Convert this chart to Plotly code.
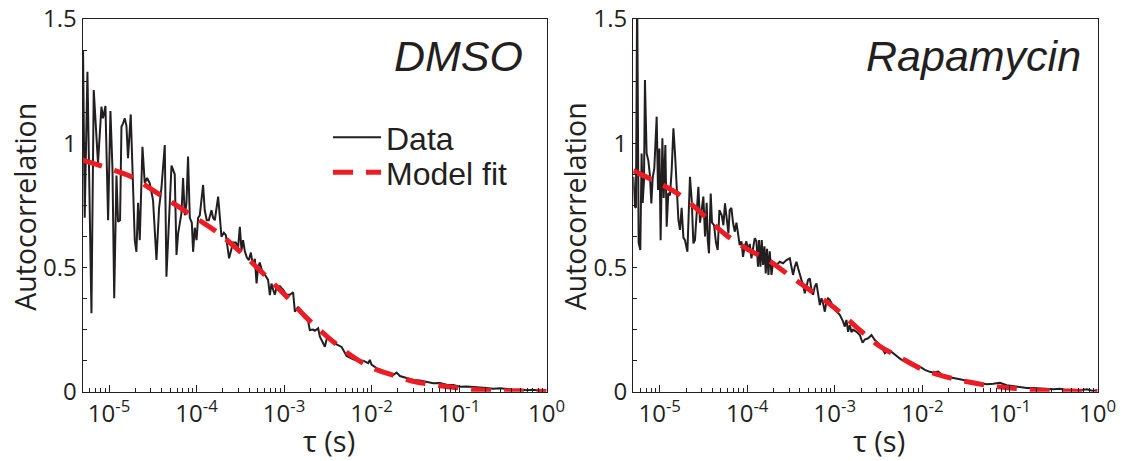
import math
import plotly.graph_objects as go

# ---------------- data ----------------
# DMSO panel: measured autocorrelation (log10 of lag time in s, G)
dmso_log_tau = [
    -5.300, -5.297, -5.278, -5.247, -5.201, -5.175, -5.126, -5.087, -5.069, -5.041,
    -5.011, -4.984, -4.961, -4.941, -4.915, -4.897, -4.874, -4.858, -4.840, -4.820,
    -4.801, -4.783, -4.752, -4.729, -4.706, -4.687, -4.668, -4.649, -4.618, -4.592,
    -4.565, -4.535, -4.497, -4.458, -4.428, -4.401, -4.363, -4.344, -4.314, -4.286,
    -4.249, -4.229, -4.211, -4.172, -4.154, -4.134, -4.115, -4.097, -4.077, -4.054,
    -4.039, -4.020, -4.000, -3.982, -3.963, -3.925, -3.906, -3.883, -3.860, -3.829,
    -3.811, -3.791, -3.753, -3.734, -3.715, -3.688, -3.665, -3.628, -3.600, -3.582,
    -3.551, -3.525, -3.505, -3.486, -3.468, -3.448, -3.425, -3.402, -3.379, -3.357,
    -3.334, -3.314, -3.296, -3.277, -3.254, -3.219, -3.182, -3.162, -3.143, -3.124,
    -3.105, -3.086, -3.048, -3.010, -2.971, -2.933, -2.896, -2.876, -2.839, -2.800,
    -2.762, -2.728, -2.705, -2.667, -2.648, -2.610, -2.590, -2.533, -2.507, -2.457,
    -2.399, -2.342, -2.285, -2.209, -2.156, -2.095, -2.038, -2.019, -2.000, -1.942,
    -1.885, -1.828, -1.752, -1.713, -1.675, -1.599, -1.523, -1.447, -1.370, -1.295,
    -1.218, -1.141, -1.066, -0.989, -0.913, -0.837, -0.760, -0.684, -0.608, -0.532,
    -0.455, -0.380, -0.303, -0.223, -0.155, -0.075, 0.000,
]
dmso_g = [
    0.98, 1.375, 0.70, 1.288, 0.316, 1.214, 0.92, 1.147, 1.10, 1.15,
    0.69, 1.13, 0.90, 0.376, 0.87, 0.684, 0.69, 1.066, 1.08, 1.10,
    1.07, 0.94, 1.116, 0.85, 0.61, 0.563, 0.76, 0.61, 0.986, 0.84,
    0.86, 0.84, 0.77, 0.53, 0.74, 0.82, 0.993, 0.463, 0.72, 0.91,
    0.875, 0.55, 0.635, 0.72, 0.86, 0.71, 0.76, 0.946, 0.70, 0.68,
    0.563, 0.66, 0.61, 0.70, 0.71, 0.832, 0.73, 0.69, 0.69, 0.73,
    0.70, 0.69, 0.785, 0.70, 0.624, 0.64, 0.63, 0.537, 0.57, 0.60,
    0.60, 0.58, 0.664, 0.57, 0.61, 0.565, 0.54, 0.53, 0.56, 0.51,
    0.535, 0.436, 0.50, 0.52, 0.49, 0.47, 0.45, 0.389, 0.435, 0.41,
    0.39, 0.42, 0.425, 0.41, 0.39, 0.39, 0.40, 0.322, 0.34, 0.325,
    0.30, 0.29, 0.248, 0.25, 0.245, 0.255, 0.221, 0.181, 0.22, 0.208,
    0.19, 0.18, 0.144, 0.13, 0.125, 0.125, 0.115, 0.128, 0.109, 0.095,
    0.087, 0.070, 0.067, 0.077, 0.063, 0.055, 0.047, 0.045, 0.040, 0.034,
    0.035, 0.028, 0.027, 0.020, 0.021, 0.018, 0.017, 0.015, 0.012, 0.014,
    0.010, 0.008, 0.009, 0.006, 0.008, 0.004, 0.005,
]

# Rapamycin panel: measured autocorrelation
rap_log_tau = [
    -5.300, -5.282, -5.271, -5.257, -5.240, -5.221, -5.206, -5.194, -5.179, -5.168,
    -5.149, -5.129, -5.111, -5.095, -5.080, -5.061, -5.034, -5.019, -5.003, -4.989,
    -4.969, -4.954, -4.935, -4.920, -4.901, -4.882, -4.863, -4.843, -4.825, -4.806,
    -4.786, -4.768, -4.749, -4.729, -4.711, -4.683, -4.654, -4.634, -4.615, -4.597,
    -4.577, -4.558, -4.539, -4.520, -4.501, -4.482, -4.463, -4.451, -4.437, -4.417,
    -4.402, -4.379, -4.357, -4.337, -4.318, -4.291, -4.272, -4.254, -4.234, -4.215,
    -4.200, -4.181, -4.162, -4.143, -4.123, -4.105, -4.086, -4.066, -4.048, -4.029,
    -4.009, -3.991, -3.971, -3.952, -3.934, -3.914, -3.895, -3.877, -3.865, -3.849,
    -3.834, -3.819, -3.803, -3.789, -3.774, -3.758, -3.743, -3.723, -3.705, -3.666,
    -3.629, -3.591, -3.552, -3.514, -3.495, -3.477, -3.457, -3.438, -3.419, -3.400,
    -3.381, -3.362, -3.343, -3.323, -3.305, -3.286, -3.266, -3.248, -3.229, -3.209,
    -3.191, -3.171, -3.152, -3.134, -3.114, -3.095, -3.077, -3.057, -3.038, -3.019,
    -2.981, -2.943, -2.905, -2.886, -2.867, -2.848, -2.829, -2.810, -2.791, -2.752,
    -2.714, -2.683, -2.657, -2.619, -2.581, -2.543, -2.505, -2.466, -2.429, -2.391,
    -2.352, -2.314, -2.276, -2.238, -2.200, -2.162, -2.123, -2.086, -2.029, -1.971,
    -1.914, -1.877, -1.819, -1.781, -1.723, -1.648, -1.571, -1.495, -1.419, -1.343,
    -1.266, -1.191, -1.114, -1.038, -0.962, -0.886, -0.809, -0.733, -0.657, -0.581,
    -0.505, -0.429, -0.371, -0.291, -0.200, -0.120, -0.063, 0.000,
]
rap_g = [
    0.865, 0.745, 0.74, 1.62, 0.60, 0.57, 0.959, 0.76, 0.85, 1.254,
    0.959, 0.93, 0.87, 0.758, 0.86, 0.90, 1.107, 0.812, 0.979, 0.61,
    1.02, 0.78, 0.993, 0.664, 0.80, 0.79, 0.89, 1.06, 0.96, 0.82,
    0.691, 0.651, 0.74, 0.62, 0.61, 0.563, 0.865, 0.77, 0.597, 0.61,
    0.75, 0.825, 0.68, 0.745, 0.785, 0.625, 0.76, 0.61, 0.557, 0.798,
    0.68, 0.67, 0.60, 0.57, 0.731, 0.71, 0.67, 0.758, 0.69, 0.637,
    0.731, 0.74, 0.68, 0.644, 0.68, 0.63, 0.59, 0.605, 0.543, 0.585,
    0.605, 0.565, 0.595, 0.537, 0.585, 0.618, 0.605, 0.503, 0.61, 0.503,
    0.61, 0.51, 0.585, 0.476, 0.575, 0.47, 0.565, 0.47, 0.52, 0.51,
    0.523, 0.517, 0.53, 0.537, 0.503, 0.47, 0.503, 0.523, 0.497, 0.47,
    0.45, 0.43, 0.396, 0.423, 0.45, 0.456, 0.41, 0.39, 0.423, 0.436,
    0.396, 0.349, 0.376, 0.356, 0.322, 0.363, 0.376, 0.37, 0.356, 0.336,
    0.323, 0.309, 0.282, 0.262, 0.289, 0.241, 0.268, 0.24, 0.25, 0.241,
    0.228, 0.197, 0.21, 0.215, 0.228, 0.208, 0.195, 0.182, 0.155, 0.165,
    0.16, 0.148, 0.14, 0.128, 0.124, 0.124, 0.114, 0.107, 0.101, 0.088,
    0.080, 0.077, 0.081, 0.068, 0.060, 0.056, 0.050, 0.044, 0.040, 0.034,
    0.030, 0.032, 0.036, 0.026, 0.022, 0.018, 0.015, 0.015, 0.014, 0.010,
    0.010, 0.012, 0.007, 0.008, 0.006, 0.010, 0.004, 0.005,
]

# Model fits
fit_log_tau = [
    -5.301, -5.00, -4.75, -4.50, -4.25, -4.00, -3.75, -3.50, -3.25, -3.00, -2.75,
    -2.50, -2.25, -2.00, -1.75, -1.50, -1.25, -1.00, -0.75, -0.50, -0.25, 0.00,
]
dmso_fit = [
    0.932, 0.898, 0.866, 0.811, 0.755, 0.697, 0.638, 0.563, 0.480, 0.393, 0.300,
    0.220, 0.150, 0.097, 0.066, 0.040, 0.026, 0.015, 0.007, 0.004, 0.002, 0.001,
]
rap_fit = [
    0.889, 0.838, 0.787, 0.711, 0.633, 0.574, 0.527, 0.463, 0.400, 0.337, 0.259,
    0.186, 0.137, 0.090, 0.062, 0.041, 0.025, 0.015, 0.007, 0.004, 0.002, 0.001,
]

major_tau = [1e-5, 1e-4, 1e-3, 1e-2, 1e-1, 1e0]
major_text = ["10<sup>-5</sup>", "10<sup>-4</sup>", "10<sup>-3</sup>",
              "10<sup>-2</sup>", "10<sup>-1</sup>", "10<sup>0</sup>"]
panel_titles = ["DMSO", "Rapamycin"]

# ---------------- styling ----------------
INK = "#231F20"
RED = "#ED1C24"
SANS = "Open Sans"
HELV = "Liberation Sans"

minor_tau = [m * 10 ** e for e in range(-6, 0) for m in range(2, 10) if m * 10 ** e > 5.2e-6]

def tau(vals):
    return [10 ** v for v in vals]

fig = go.Figure()
fig.add_trace(go.Scatter(x=tau(dmso_log_tau), y=dmso_g, mode="lines", name="Data",
                         line=dict(color=INK, width=2), xaxis="x", yaxis="y",
                         legend="legend"))
fig.add_trace(go.Scatter(x=tau(fit_log_tau), y=dmso_fit, mode="lines", name="Model fit",
                         line=dict(color=RED, width=5, dash="20px,13px", shape="spline"),
                         xaxis="x", yaxis="y", legend="legend2"))
fig.add_trace(go.Scatter(x=tau(rap_log_tau), y=rap_g, mode="lines", showlegend=False,
                         line=dict(color=INK, width=2), xaxis="x2", yaxis="y2"))
fig.add_trace(go.Scatter(x=tau(fit_log_tau), y=rap_fit, mode="lines", showlegend=False,
                         line=dict(color=RED, width=5, dash="20px,13px", shape="spline"),
                         xaxis="x2", yaxis="y2"))

W, H = 1121, 461
def px(x):
    return x / W
def py(y):
    return 1 - y / H

xdomains = [[px(82.7), px(546.5)], [px(633.3), px(1097.5)]]
ydomain = [py(391.7), py(19)]

def xaxis(domain, anchor):
    return dict(
        type="log", range=[math.log10(5e-6), 0], domain=domain, anchor=anchor,
        tickmode="array", tickvals=major_tau, ticktext=major_text,
        ticks="inside", ticklen=7, tickwidth=1.2, tickcolor=INK,
        minor=dict(ticks="inside", ticklen=4, tickwidth=1, tickcolor=INK,
                   tickmode="array", tickvals=minor_tau),
        showline=True, linecolor=INK, linewidth=1.3, mirror=True,
        showgrid=False, zeroline=False, automargin=False,
        tickfont=dict(family=SANS, size=24, color=INK),
    )

def yaxis(anchor):
    return dict(
        range=[0, 1.5], domain=ydomain, anchor=anchor,
        tickmode="linear", tick0=0, dtick=0.5,
        ticks="inside", ticklen=4, tickwidth=1, tickcolor=INK,
        minor=dict(ticks="inside", ticklen=4, tickwidth=1, tickcolor=INK, dtick=0.125),
        showline=True, linecolor=INK, linewidth=1.3, mirror=True,
        showgrid=False, zeroline=False, automargin=False,
        tickfont=dict(family=SANS, size=24, color=INK),
    )

annotations = []
for i, (xl, xr) in enumerate([(82.7, 546.5), (633.3, 1097.5)]):
    annotations.append(dict(text="Autocorrelation", xref="paper", yref="paper",
                            x=px(xl - 58.5), y=py(206.5), textangle=-90, showarrow=False,
                            xanchor="center", yanchor="middle",
                            font=dict(family=SANS, size=28.5, color=INK)))
    annotations.append(dict(text="τ (s)", xref="paper", yref="paper",
                            x=px((xl + xr) / 2 + 14), y=py(440), showarrow=False,
                            xanchor="center", yanchor="middle",
                            font=dict(family=SANS, size=29, color=INK)))
annotations.append(dict(text="<i>" + panel_titles[0] + "</i>", xref="paper", yref="paper",
                        x=px(525), y=py(56), showarrow=False, xanchor="right", yanchor="middle",
                        font=dict(family=HELV, size=43, color=INK)))
annotations.append(dict(text="<i>" + panel_titles[1] + "</i>", xref="paper", yref="paper",
                        x=px(1083), y=py(56), showarrow=False, xanchor="right", yanchor="middle",
                        font=dict(family=HELV, size=43, color=INK)))

legend_common = dict(xanchor="left", yanchor="top", bgcolor="rgba(0,0,0,0)",
                     borderwidth=0, itemwidth=48,
                     font=dict(family=HELV, size=32, color=INK))

fig.update_layout(
    width=W, height=H,
    margin=dict(l=0, r=0, t=0, b=0),
    paper_bgcolor="white", plot_bgcolor="white",
    xaxis=xaxis(xdomains[0], "y"), yaxis=yaxis("x"),
    xaxis2=xaxis(xdomains[1], "y2"), yaxis2=yaxis("x2"),
    showlegend=True,
    legend=dict(x=px(328), y=py(110), **legend_common),
    legend2=dict(x=px(328), y=py(145), **legend_common),
    annotations=annotations,
    template="none",
)

fig.write_html("out.html", config={"displayModeBar": False})

# remove the browser's default page margin so the figure sits at (0, 0)
with open("out.html", encoding="utf-8") as fh:
    page = fh.read()
page = page.replace("<head>", "<head><style>html,body{margin:0;padding:0;overflow:hidden;}</style>", 1)
with open("out.html", "w", encoding="utf-8") as fh:
    fh.write(page)
